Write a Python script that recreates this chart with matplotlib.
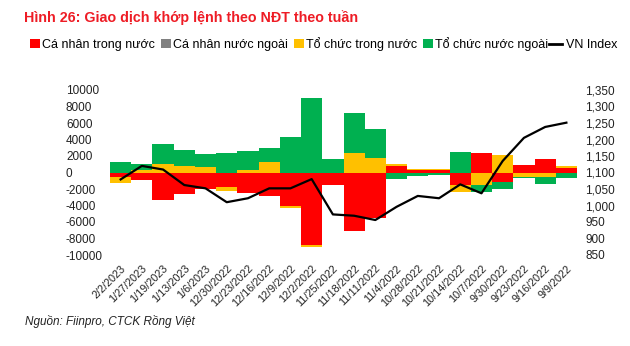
import matplotlib
matplotlib.use("Agg")
import matplotlib.pyplot as plt
from matplotlib.patches import Patch
from matplotlib.lines import Line2D
from matplotlib.legend_handler import HandlerBase
from matplotlib.ticker import FuncFormatter, FixedLocator
import numpy as np

plt.rcParams['font.family'] = ['Liberation Sans', 'DejaVu Sans']
plt.rcParams['axes.unicode_minus'] = False

categories = ["2/2/2023", "1/27/2023", "1/19/2023", "1/13/2023", "1/6/2023",
              "12/30/2022", "12/23/2022", "12/16/2022", "12/9/2022", "12/2/2022",
              "11/25/2022", "11/18/2022", "11/11/2022", "11/4/2022", "10/28/2022",
              "10/21/2022", "10/14/2022", "10/7/2022", "9/30/2022", "9/23/2022",
              "9/16/2022", "9/9/2022"]

ca_nhan_trong_nuoc = [-600, -900, -3370, -2600, -2000, -1700, -2450, -2850, -4040, -8790,
                      -1500, -7070, -5500, 770, 250, 300, -1550, 2400, -1130, 930, 1600, 530]
ca_nhan_nuoc_ngoai = [0] * 22
to_chuc_trong_nuoc = [-650, 330, 1000, 750, 690, -550, 300, 1300, -250, -200,
                      0, 2320, 1800, 200, 200, 150, -850, -1530, 2120, -500, -600, 260]
to_chuc_nuoc_ngoai = [1300, 650, 2500, 1950, 1500, 2400, 2350, 1700, 4340, 9070,
                      1600, 4850, 3470, -840, -400, -300, 2520, -890, -890, -150, -850, -630]
vn_index = [1079, 1120, 1109, 1062, 1052, 1010, 1022, 1052, 1052, 1080,
            973, 969, 956, 996, 1029, 1022, 1064, 1037, 1135, 1205, 1238, 1251]

series_names = ["Cá nhân trong nước", "Cá nhân nước ngoài", "Tổ chức trong nước", "Tổ chức nước ngoài"]
series_colors = ["#FF0000", "#808080", "#FFC000", "#00B050"]
series_data = [ca_nhan_trong_nuoc, ca_nhan_nuoc_ngoai, to_chuc_trong_nuoc, to_chuc_nuoc_ngoai]

W, H = 630, 346
fig = plt.figure(figsize=(W / 100, H / 100), dpi=100)
ax = fig.add_axes([110 / W, 1 - 255 / H, (577 - 110) / W, (255 - 90) / H])

x = np.arange(len(categories))
pos_bottom = np.zeros(len(categories))
neg_bottom = np.zeros(len(categories))
for vals, col in zip(series_data, series_colors):
    v = np.array(vals, dtype=float)
    bottom = np.where(v >= 0, pos_bottom, neg_bottom)
    ax.bar(x, v, width=1.0, bottom=bottom, color=col, linewidth=0)
    pos_bottom = pos_bottom + np.where(v > 0, v, 0)
    neg_bottom = neg_bottom + np.where(v < 0, v, 0)

ax.set_xlim(-0.5, len(categories) - 0.5)
ax.set_ylim(-10000, 10000)
ax.yaxis.set_major_locator(FixedLocator(np.arange(-10000, 10001, 2000)))
ax.tick_params(axis='y', length=0, labelsize=8.5, pad=44 * 0.72, colors='#222222')
for lbl in ax.get_yticklabels():
    lbl.set_horizontalalignment('left')
ax.set_xticks(x)
ax.set_xticklabels(categories, rotation=45, ha='right', va='top', rotation_mode='anchor',
                   fontsize=7.8, color='#222222')
ax.tick_params(axis='x', length=0, pad=6)
for s in ax.spines.values():
    s.set_visible(False)

ax2 = ax.twinx()
ax2.plot(x, vn_index, color='black', linewidth=1.6)
ax2.set_ylim(850, 1350)
ax2.yaxis.set_major_locator(FixedLocator(np.arange(850, 1351, 50)))
ax2.yaxis.set_major_formatter(FuncFormatter(lambda v, p: f"{int(v):,}"))
ax2.tick_params(axis='y', length=0, labelsize=8.5, pad=8 * 0.72, colors='#222222')
for s in ax2.spines.values():
    s.set_visible(False)

fig.text(24 / W, 1 - 18 / H, "Hình 26: Giao dịch khớp lệnh theo NĐT theo tuần",
         color='#EE1C25', fontsize=10.3, fontweight='bold', ha='left', va='center')


class LongLineHandler(HandlerBase):
    def create_artists(self, legend, orig_handle, xdescent, ydescent, width, height,
                       fontsize, trans):
        y = height / 2 - ydescent
        ln = Line2D([-xdescent - 4, width - xdescent - 1.5], [y, y], color='black', linewidth=2)
        ln.set_transform(trans)
        return [ln]


handles = [Patch(facecolor=c, edgecolor='none') for c in series_colors]
line_handle = Line2D([0], [0], color='black', linewidth=2)
handles.append(line_handle)
labels = series_names + ["VN Index"]
fig.legend(handles, labels, loc='center left', bbox_to_anchor=(30 / W, 1 - 44 / H),
           ncol=5, frameon=False, fontsize=9, handlelength=0.8, handleheight=0.8,
           handletextpad=0.15, columnspacing=0.5, borderaxespad=0, borderpad=0,
           handler_map={line_handle: LongLineHandler()})

fig.text(25 / W, 1 - 322 / H, "Nguồn: Fiinpro, CTCK Rồng Việt", fontsize=8.5,
         style='italic', ha='left', va='center', color='#222222')

fig.savefig("out.png", dpi=100)
